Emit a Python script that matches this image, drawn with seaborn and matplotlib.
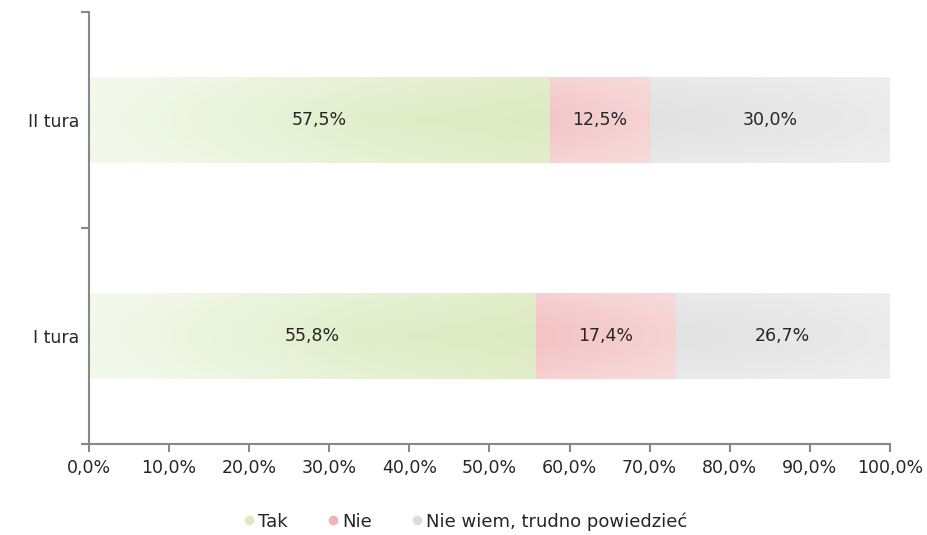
import numpy as np
import pandas as pd
import matplotlib
matplotlib.use("Agg")
import matplotlib.pyplot as plt
import seaborn as sns
from matplotlib.lines import Line2D
from matplotlib.colors import LinearSegmentedColormap

sns.set_style("white")
plt.rcParams['font.family'] = ['DejaVu Sans']

tury = ["II tura", "I tura"]
tak = [57.5, 55.8]
nie = [12.5, 17.4]
nie_wiem = [30.0, 26.7]
serie = ["Tak", "Nie", "Nie wiem, trudno powiedzieć"]
x_ticks = [0, 10, 20, 30, 40, 50, 60, 70, 80, 90, 100]

df = pd.DataFrame({"tura": tury, "Tak": tak, "Nie": nie, "NW": nie_wiem})
df["c1"] = df["Tak"]
df["c2"] = df["Tak"] + df["Nie"]
df["c3"] = df["Tak"] + df["Nie"] + df["NW"]

kol_tak = ("#f2f8ea", "#dcebc1")
kol_nie = ("#f8dcdd", "#f0b3b6")
kol_nw = ("#efefef", "#dcdcdc")
tekst = "#262626"
fs = 12.5

fig, ax = plt.subplots(figsize=(9.27, 5.35), dpi=100)
plt.subplots_adjust(left=0.096, right=0.96, top=0.978, bottom=0.17)

# stacked by overlaying cumulative sums
sns.barplot(data=df, x="c3", y="tura", order=tury, color=kol_nw[0], width=0.4,
            orient="h", ax=ax, edgecolor="white", linewidth=1.5)
sns.barplot(data=df, x="c2", y="tura", order=tury, color=kol_nie[0], width=0.4,
            orient="h", ax=ax, edgecolor="white", linewidth=1.5)
sns.barplot(data=df, x="c1", y="tura", order=tury, color=kol_tak[0], width=0.4,
            orient="h", ax=ax, edgecolor="white", linewidth=1.5)

# gradient fill clipped to each bar segment
n = len(tury)
kolory = [kol_nw] * n + [kol_nie] * n + [kol_tak] * n
for k, (p, (c0, c1)) in enumerate(zip(ax.patches, kolory)):
    x0, y0 = p.get_x(), p.get_y()
    w, h = p.get_width(), p.get_height()
    cm = LinearSegmentedColormap.from_list("g", [c0, c1])
    xx, yy = np.meshgrid(np.linspace(-1, 1, 200), np.linspace(-1, 1, 50))
    if c0 == kol_tak[0]:
        grad = np.clip((xx + 1) / 2 * 0.8 + 0.3 * (1 - np.sqrt(((xx - 0.4) / 1.2) ** 2 + yy ** 2)), 0, 1)
    else:
        grad = np.clip(1 - np.sqrt(xx ** 2 + (yy * 0.8) ** 2) / 1.3, 0, 1)
    im = ax.imshow(grad, cmap=cm, extent=[x0, x0 + w, y0 + h, y0], aspect="auto",
                   zorder=p.get_zorder() + 0.01 * (k + 1), vmin=0, vmax=1)
    im.set_clip_path(p)

# labels
for i in range(n):
    ax.text(tak[i] / 2, i, f"{tak[i]:.1f}%".replace(".", ","), ha="center", va="center",
            fontsize=fs, color=tekst, zorder=10)
    ax.text(tak[i] + nie[i] / 2, i, f"{nie[i]:.1f}%".replace(".", ","), ha="center", va="center",
            fontsize=fs, color=tekst, zorder=10)
    ax.text(tak[i] + nie[i] + nie_wiem[i] / 2, i, f"{nie_wiem[i]:.1f}%".replace(".", ","),
            ha="center", va="center", fontsize=fs, color=tekst, zorder=10)

ax.set_xlim(0, 100)
ax.set_ylim(1.5, -0.5)
ax.set_xticks(x_ticks)
ax.set_xticklabels([f"{v:.1f}%".replace(".", ",") for v in x_ticks], fontsize=fs, color=tekst)
ax.set_yticks([0, 1])
ax.set_yticklabels(tury, fontsize=fs, color=tekst)
ax.set_yticks([-0.5, 0.5, 1.5], minor=True)
ax.tick_params(axis="y", which="major", left=False, length=0, pad=7)
ax.tick_params(axis="y", which="minor", left=True, length=6, color="#888888", width=1.5,
               direction="out")
ax.tick_params(axis="x", which="major", bottom=True, length=6, color="#888888", width=1.5,
               direction="out", pad=5)
ax.set_xlabel("")
ax.set_ylabel("")
for s in ["top", "right"]:
    ax.spines[s].set_visible(False)
for s in ["left", "bottom"]:
    ax.spines[s].set_color("#888888")
    ax.spines[s].set_linewidth(1.5)
ax.grid(False)

handles = [Line2D([], [], marker="o", linestyle="", markersize=7, markerfacecolor=c[1],
                  markeredgecolor="none") for c in (kol_tak, kol_nie, kol_nw)]
fig.legend(handles, serie, loc="lower center", ncol=3, frameon=False, fontsize=13,
           bbox_to_anchor=(0.5, -0.022), handletextpad=0.0, columnspacing=2.0,
           handlelength=1.0)

fig.savefig("out.png", dpi=100)
